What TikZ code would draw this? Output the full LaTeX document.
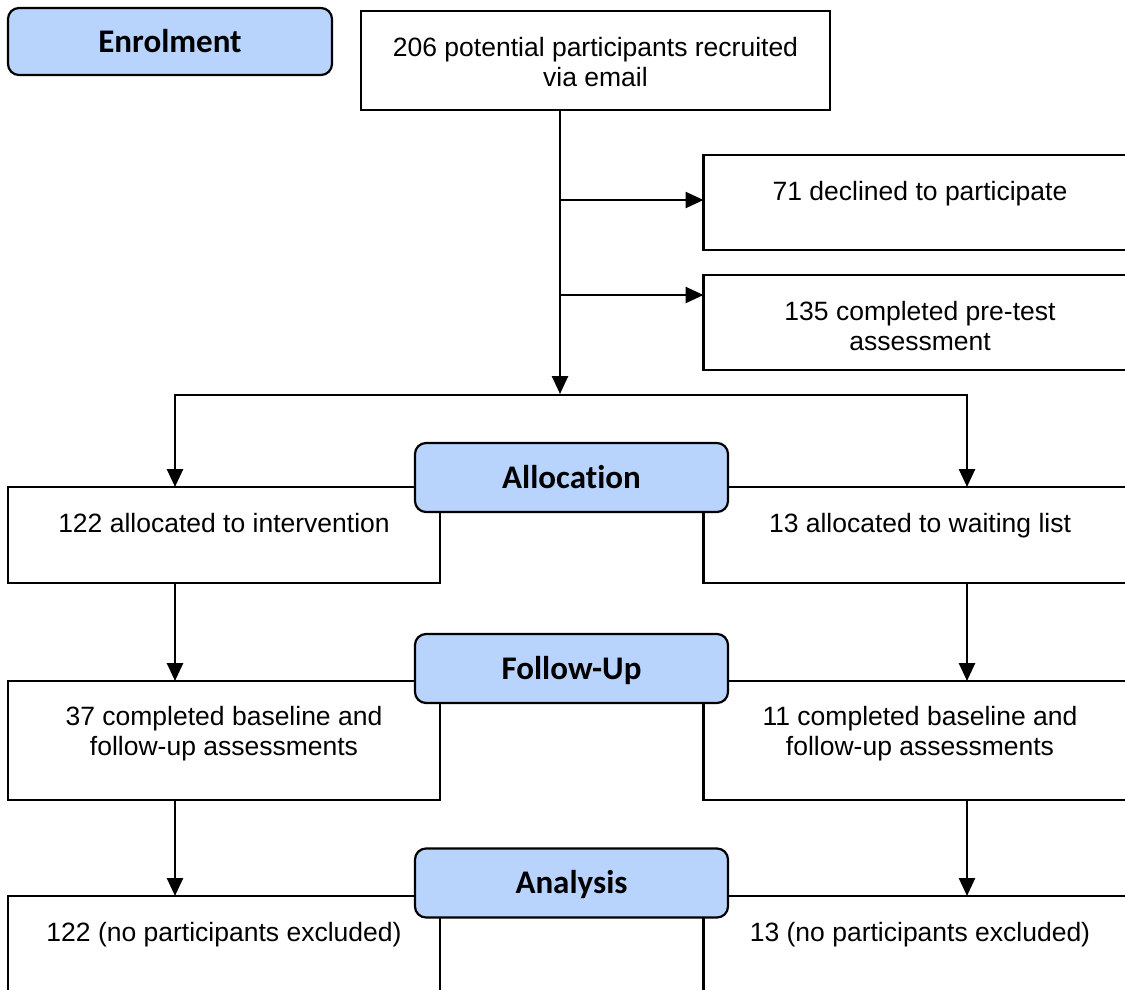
\documentclass[tikz,border=0pt]{standalone}
\usepackage{fontspec}
\setmainfont{Liberation Sans}
\newfontfamily\stagefont[Ligatures={NoCommon,NoContextual}]{Carlito}
\usetikzlibrary{arrows.meta}
\definecolor{stageblue}{RGB}{184,211,252}

\begin{document}
\begin{tikzpicture}[x=1pt,y=-1pt,
  box/.style={draw, line width=2.2pt, inner sep=0pt, outer sep=0pt},
  stage/.style={draw, line width=2.2pt, fill=stageblue, rounded corners=11pt,
    inner sep=0pt, outer sep=0pt, minimum width=313pt, minimum height=69pt,
    text height=21pt, text depth=0pt,
    font=\stagefont\bfseries\fontsize{33}{36}\selectfont},
  txt/.style={anchor=base, align=center, inner sep=0pt,
    font=\fontsize{26.5}{30.5}\selectfont},
  arr/.style={line width=2.6pt, -{Triangle[length=18pt,width=16pt]}}]

\clip (0,0) rectangle (1125,989);

% boxes
\node[box, minimum width=469pt, minimum height=99pt] (recruit) at (595.5,60.5) {};
\node[box, minimum width=433pt, minimum height=95pt] (declined) at (920,202.5) {};
\node[box, minimum width=433pt, minimum height=95pt] (pretest) at (920,322.5) {};
\node[box, minimum width=432pt, minimum height=96pt] (interv) at (224,535) {};
\node[box, minimum width=433pt, minimum height=96pt] (waitl) at (920,535) {};
\node[box, minimum width=432pt, minimum height=119pt] (fuL) at (224,740.5) {};
\node[box, minimum width=433pt, minimum height=119pt] (fuR) at (920,740.5) {};
\node[box, minimum width=432pt, minimum height=120pt] (anL) at (224,956) {};
\node[box, minimum width=433pt, minimum height=120pt] (anR) at (920,956) {};

% box texts (anchor = baseline of the last line)
\node[txt] (recruitT) at (595.5,86.5) {206 potential participants recruited\\via email};
\node[txt] (declinedT) at (920,200) {71 declined to participate};
\node[txt] (pretestT) at (920,350.5) {135 completed pre-test\\assessment};
\node[txt] (intervT) at (224,532) {122 allocated to intervention};
\node[txt] (waitlT) at (920,532) {13 allocated to waiting list};
\node[txt] (fuLT) at (224,755.5) {37 completed baseline and\\follow-up assessments};
\node[txt] (fuRT) at (920,755.5) {11 completed baseline and\\follow-up assessments};
\node[txt] (anLT) at (224,941) {122 (no participants excluded)};
\node[txt] (anRT) at (920,941) {13 (no participants excluded)};

% connector routing points
\coordinate (spine) at (560,395);
\coordinate (br1) at (560,200);
\coordinate (br2) at (560,295);
\coordinate (lx) at (175,395);
\coordinate (rx) at (967,395);

% connectors
\draw[arr] (recruit.south -| spine) -- ([yshift=1pt]spine);
\draw[arr] (br1) -- (br1 -| declined.west);
\draw[arr] (br2) -- (br2 -| pretest.west);
\draw[arr] (spine) -| (interv.north -| lx);
\draw[arr] (spine) -| (waitl.north -| rx);
\draw[arr] (interv.south -| lx) -- (fuL.north -| lx);
\draw[arr] (waitl.south -| rx) -- (fuR.north -| rx);
\draw[arr] (fuL.south -| lx) -- (anL.north -| lx);
\draw[arr] (fuR.south -| rx) -- (anR.north -| rx);

% stage labels
\node[stage, minimum width=324pt, minimum height=67pt] (enrol) at (170,41.5) {Enrolment};
\node[stage] (alloc) at (571.5,477.5) {Allocation};
\node[stage] (follow) at (571.5,668.5) {Follow-Up};
\node[stage] (analysis) at (571.5,883) {Analysis};
\end{tikzpicture}
\end{document}
